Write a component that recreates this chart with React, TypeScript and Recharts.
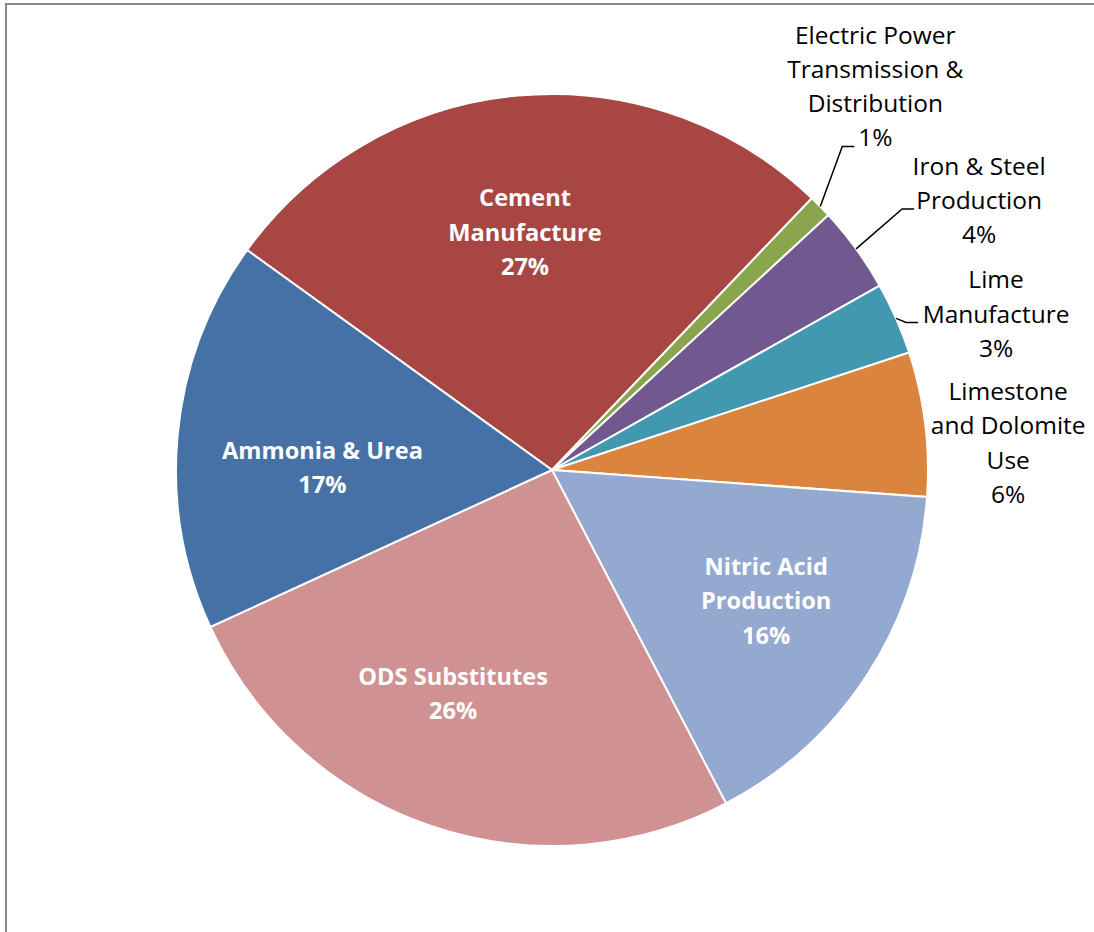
import { Cell, Pie, PieChart } from "recharts";

// Emission sources, clockwise from the Cement slice, share of total (%).
const sources = [
  "Cement Manufacture",
  "Electric Power Transmission & Distribution",
  "Iron & Steel Production",
  "Lime Manufacture",
  "Limestone and Dolomite Use",
  "Nitric Acid Production",
  "ODS Substitutes",
  "Ammonia & Urea",
];
const shares = [27.2, 1.0, 3.7, 3.1, 6.2, 16.2, 25.8, 16.8];

// Wrapped label lines as they appear on the chart.
const labelLines = [
  ["Cement", "Manufacture"],
  ["Electric Power", "Transmission &", "Distribution"],
  ["Iron & Steel", "Production"],
  ["Lime", "Manufacture"],
  ["Limestone", "and Dolomite", "Use"],
  ["Nitric Acid", "Production"],
  ["ODS Substitutes"],
  ["Ammonia & Urea"],
];

const colors = ["#A84644", "#89A54E", "#71588F", "#4299AF", "#DB843D", "#94A9CF", "#D09192", "#4571A6"];

const data = sources.map((name, i) => ({ name, value: shares[i], lines: labelLines[i] }));

// Label placement. Inside labels sit at a fraction of the radius on the mid angle
// (plus a nudge to the first line); outside ones hang off the rim point with an elbow leader.
type Layout =
  | { inside: true; rf: number; dx: number; dy: number }
  | { inside: false; dx: number; dy: number; knee?: [number, number] };

const layout: Layout[] = [
  { inside: true, rf: 0.64, dx: -5, dy: -33 },
  { inside: false, dx: 55, dy: -173, knee: [22, -60] },
  { inside: false, dx: 123, dy: -84, knee: [46, -40] },
  { inside: false, dx: 100, dy: -40, knee: [10, 4] },
  { inside: false, dx: 83, dy: -34 },
  { inside: true, rf: 0.64, dx: 13, dy: -36 },
  { inside: true, rf: 0.64, dx: -21, dy: -22 },
  { inside: true, rf: 0.64, dx: 10, dy: 3 },
];

const FONT = "'Open Sans', 'Noto Sans', sans-serif";
const LINE = 34.3;
const RAD = Math.PI / 180;

function renderLabel(props: any) {
  const { cx, cy, midAngle, outerRadius, index, percent } = props;
  const cfg = layout[index];
  const lines = [...data[index].lines, `${Math.round(percent * 100)}%`];
  const cos = Math.cos(-midAngle * RAD);
  const sin = Math.sin(-midAngle * RAD);

  if (cfg.inside) {
    const r = outerRadius * cfg.rf;
    const x = cx + r * cos + cfg.dx;
    const top = cy + r * sin + cfg.dy;
    return (
      <text
        key={`lbl-${index}`}
        x={x}
        y={top}
        textAnchor="middle"
        dominantBaseline="central"
        fill="#fff"
        fontFamily={FONT}
        fontWeight={700}
        fontSize={23.6}
      >
        {lines.map((l, i) => (
          <tspan key={i} x={x} y={top + i * LINE}>
            {l}
          </tspan>
        ))}
      </text>
    );
  }

  const ex = cx + outerRadius * cos;
  const ey = cy + outerRadius * sin;
  const x = ex + cfg.dx;
  const top = ey + cfg.dy;
  return (
    <g key={`lbl-${index}`}>
      {cfg.knee && (
        <polyline
          points={`${ex},${ey} ${ex + cfg.knee[0]},${ey + cfg.knee[1]} ${ex + cfg.knee[0] + 12},${ey + cfg.knee[1]}`}
          fill="none"
          stroke="#000"
          strokeWidth={1.5}
        />
      )}
      <text
        x={x}
        y={top}
        textAnchor="middle"
        dominantBaseline="central"
        fill="#000"
        fontFamily={FONT}
        fontSize={24.5}
      >
        {lines.map((l, i) => (
          <tspan key={i} x={x} y={top + i * LINE}>
            {l}
          </tspan>
        ))}
      </text>
    </g>
  );
}

export default function App() {
  return (
    <div style={{ position: "absolute", left: 0, top: 0, width: 1094, height: 932, background: "#fff", overflow: "hidden" }}>
      <div
        style={{
          position: "absolute",
          left: 5,
          top: 3,
          width: 1200,
          height: 1200,
          borderLeft: "2px solid #8a8a8a",
          borderTop: "2px solid #8a8a8a",
        }}
      />
      <PieChart
        width={1094}
        height={932}
        margin={{ top: 0, right: 0, bottom: 0, left: 0 }}
        style={{ position: "absolute", left: 0, top: 0 }}
      >
        <Pie
          data={data}
          dataKey="value"
          nameKey="name"
          cx={552}
          cy={470}
          outerRadius={376}
          startAngle={144.2}
          endAngle={-215.8}
          stroke="#fff"
          strokeWidth={2}
          label={renderLabel}
          labelLine={false}
          isAnimationActive={false}
        >
          {data.map((d, i) => (
            <Cell key={d.name} fill={colors[i]} />
          ))}
        </Pie>
      </PieChart>
    </div>
  );
}
